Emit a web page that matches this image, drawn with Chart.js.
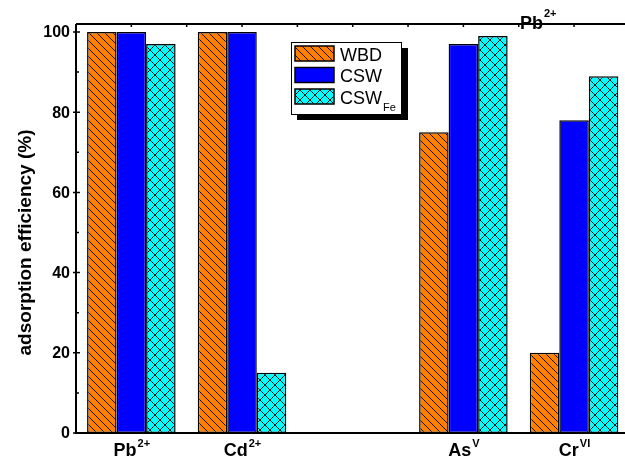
<!DOCTYPE html>
<html lang="en">
<head>
<meta charset="UTF-8">
<title>adsorption efficiency</title>
<script src="https://cdn.jsdelivr.net/npm/chart.js"></script>
<style>
  html, body { margin: 0; padding: 0; overflow: hidden; background: #fff; }
  #wrap { width: 640px; height: 457px; }
</style>
</head>
<body>
<div id="wrap"><canvas id="c" width="640" height="457"></canvas></div>
<script>
// data (third slot is an empty gap)
const ions   = ['Pb', 'Cd', '', 'As', 'Cr'];
const ionSup = ['2+', '2+', '', 'V', 'VI'];
const wbd    = [100, 100, null, 75, 20];
const csw    = [100, 100, null, 97, 78];
const cswFe  = [97, 15, null, 99, 89];
const yMajor = [0, 20, 40, 60, 80, 100];
const yMinor = [10, 30, 50, 70, 90];

const canvas = document.getElementById('c');
const ctx = canvas.getContext('2d');

function hatch(bg, cross, s) {
  const t = document.createElement('canvas');
  t.width = t.height = s;
  const g = t.getContext('2d');
  g.fillStyle = bg;
  g.fillRect(0, 0, s, s);
  g.strokeStyle = '#000';
  g.lineWidth = 0.9;
  g.beginPath();
  for (let o = -s; o <= s; o += s) {
    g.moveTo(o, 0); g.lineTo(o + s, s);
    if (cross) { g.moveTo(o + s, 0); g.lineTo(o, s); }
  }
  g.stroke();
  return ctx.createPattern(t, 'repeat');
}

const orangeHatch = hatch('#FF8000', false, 8);
const cyanCross = hatch('#00FFFF', true, 10);

// label with superscript / subscript
function richText(c, base, extra, x, y, font, smallFont, dy, align) {
  c.font = font;
  const w1 = c.measureText(base).width;
  c.font = smallFont;
  const w2 = c.measureText(extra).width;
  let x0 = x;
  if (align === 'center') x0 = x - (w1 + w2) / 2;
  c.textAlign = 'left';
  c.textBaseline = 'alphabetic';
  c.font = font;
  c.fillText(base, x0, y);
  c.font = smallFont;
  c.fillText(extra, x0 + w1 + 1, y + dy);
}

const decor = {
  id: 'decor',
  afterDatasetsDraw(chart) {
    const c = chart.ctx;
    const a = chart.chartArea;
    const xs = chart.scales.x, ys = chart.scales.y;
    c.save();
    c.fillStyle = '#000';
    c.strokeStyle = '#000';

    // axes lines
    c.lineWidth = 2;
    c.beginPath();
    c.moveTo(a.left, a.top); c.lineTo(a.left, a.bottom); c.lineTo(a.right + 20, a.bottom);
    c.moveTo(a.left, a.top); c.lineTo(a.right + 20, a.top);
    c.stroke();

    // y ticks
    c.lineWidth = 1.5;
    c.beginPath();
    yMajor.forEach(v => { const y = ys.getPixelForValue(v); c.moveTo(a.left - 3, y); c.lineTo(a.left + 4, y); });
    yMinor.forEach(v => { const y = ys.getPixelForValue(v); c.moveTo(a.left, y); c.lineTo(a.left + 3, y); });
    // top ticks at centres and between
    const half = (xs.getPixelForValue(1) - xs.getPixelForValue(0)) / 2;
    ions.forEach((_, i) => {
      const x = xs.getPixelForValue(i);
      [x - half, x, x + half].forEach(px => { c.moveTo(px, a.top); c.lineTo(px, a.top + 3); });
    });
    c.stroke();

    // y tick labels
    c.font = 'bold 16px "Liberation Sans", Arial, sans-serif';
    c.textAlign = 'right';
    c.textBaseline = 'middle';
    yMajor.forEach(v => c.fillText(String(v), a.left - 6, ys.getPixelForValue(v) + 1));

    // y title
    c.save();
    c.translate(26, (a.top + a.bottom) / 2 + 14);
    c.rotate(-Math.PI / 2);
    c.font = 'bold 19px "Liberation Sans", Arial, sans-serif';
    c.textAlign = 'center';
    c.textBaseline = 'middle';
    c.fillText('adsorption efficiency (%)', 0, 0);
    c.restore();

    // x category labels
    ions.forEach((ion, i) => {
      if (!ion) return;
      richText(c, ion, ionSup[i], xs.getPixelForValue(i), 456,
        'bold 18px "Liberation Sans", Arial, sans-serif',
        'bold 11px "Liberation Sans", Arial, sans-serif', -9, 'center');
    });

    // stray label on the top axis
    richText(c, 'Pb', '2+', 520, 29,
      'bold 18px "Liberation Sans", Arial, sans-serif',
      'bold 11px "Liberation Sans", Arial, sans-serif', -12, 'left');

    // legend box with shadow
    c.fillStyle = '#000';
    c.fillRect(297, 48, 111, 72);
    c.fillStyle = '#fff';
    c.fillRect(291, 42, 110, 72);
    c.lineWidth = 1;
    c.strokeRect(291.5, 42.5, 110, 72);
    const rows = [
      { fill: orangeHatch, y: 46, name: 'WBD', sub: '' },
      { fill: '#0000FF', y: 67.5, name: 'CSW', sub: '' },
      { fill: cyanCross, y: 89, name: 'CSW', sub: 'Fe' }
    ];
    rows.forEach(r => {
      c.fillStyle = r.fill;
      c.fillRect(295, r.y, 39, 15);
      c.lineWidth = 1.5;
      c.strokeStyle = '#000';
      c.strokeRect(295, r.y, 39, 15);
      c.fillStyle = '#000';
      if (r.sub) {
        richText(c, r.name, r.sub, 340, r.y + 14.5,
          '18px "Liberation Sans", Arial, sans-serif',
          '11px "Liberation Sans", Arial, sans-serif', 7, 'left');
      } else {
        c.font = '18px "Liberation Sans", Arial, sans-serif';
        c.textAlign = 'left';
        c.textBaseline = 'alphabetic';
        c.fillText(r.name, 340, r.y + 14.5);
      }
    });
    c.restore();
  }
};

new Chart(canvas, {
  type: 'bar',
  data: {
    labels: ions,
    datasets: [
      { label: 'WBD', data: wbd, backgroundColor: orangeHatch },
      { label: 'CSW', data: csw, backgroundColor: '#0000FF' },
      { label: 'CSWFe', data: cswFe, backgroundColor: cyanCross }
    ]
  },
  options: {
    responsive: false,
    animation: false,
    devicePixelRatio: 1,
    layout: { padding: { left: 76, top: 24, right: 10.6, bottom: 24 } },
    datasets: {
      bar: {
        categoryPercentage: 0.8,
        barPercentage: 1.0,
        borderColor: '#000',
        borderWidth: 1.5,
        borderSkipped: false
      }
    },
    scales: {
      x: { display: false, offset: true },
      y: { display: false, min: 0, max: 102 }
    },
    plugins: { legend: { display: false }, tooltip: { enabled: false } }
  },
  plugins: [decor]
});
</script>
</body>
</html>
